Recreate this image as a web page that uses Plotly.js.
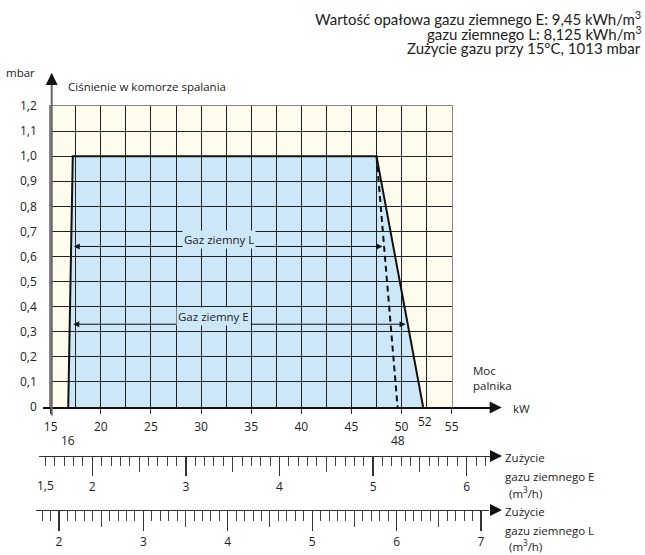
<!DOCTYPE html>
<html><head><meta charset="utf-8">
<script src="https://cdn.plot.ly/plotly-3.0.1.min.js"></script>
<style>html,body{margin:0;padding:0;background:#fff}</style>
</head><body><div id="chart" style="width:645px;height:555px"></div>
<script>
// ---- data ----
const powerTicks = [15, 20, 25, 30, 35, 40, 45, 50, 55];
const pressureTicks = [0, 0.1, 0.2, 0.3, 0.4, 0.5, 0.6, 0.7, 0.8, 0.9, 1.0, 1.1, 1.2];
const pressureLabels = ['0', '0,1', '0,2', '0,3', '0,4', '0,5', '0,6', '0,7', '0,8', '0,9', '1,0', '1,1', '1,2'];
const gridPower = [17.5, 20, 22.5, 25, 27.5, 30, 32.5, 35, 37.5, 40, 42.5, 45, 47.5, 50, 52.5];
const gridPressure = [0.1, 0.2, 0.3, 0.4, 0.5, 0.6, 0.7, 0.8, 0.9, 1.0, 1.1];
const operatingPower = [16.75, 17.2, 47.5, 52.15];
const operatingPressure = [0, 1.0, 1.0, 0];
const gasLLimitPower = [47.5, 49.6];
const gasLLimitPressure = [1.0, 0];
const endpointLabels = ['16', '48', '52'];
const endpointPower = [16.75, 49.6, 52.3];
const gasRangeNames = ['Gaz ziemny L', 'Gaz ziemny E'];
const gasRangeStart = [17.15, 17.1];
const gasRangeEnd = [48.1, 50.4];
const gasRangePressure = [0.64, 0.33];
const gasRangeLabelPower = [31.8, 31.2];
const gasRangeLabelPressure = [0.668, 0.361];
const flowERange = [1.4306, 6.249];
const flowLRange = [1.7275, 7.095];
const flowEHalfTicks = [2.5, 3.5, 4.5, 5.5];
const flowLHalfTicks = [2.5, 3.5, 4.5, 5.5, 6.5];
const flowEExtraLabel = '1,5';
const flowEExtraValue = 1.5;
const infoLines = [
  'Wartość opałowa gazu ziemnego E: 9,45 kWh/m<sup>3</sup>',
  'gazu ziemnego L: 8,125 kWh/m<sup>3</sup>',
  'Zużycie gazu przy 15°C, 1013 mbar'
];

// ---- layout helpers (pixel -> paper) ----
const W = 645, H = 555;
const px = v => v / W;
const py = v => 1 - v / H;
const tf = {family: 'Open Sans, Noto Sans, sans-serif', size: 12, color: '#222'};
const lf = {family: 'Open Sans, Noto Sans, sans-serif', size: 11.5, color: '#222'};

const mainX = [px(50.7), px(451.7)];
const mainY = [py(407), py(106)];
const thinY = p => [py(p), py(p) + 0.004];

const traces = [
  {x: operatingPower, y: operatingPressure, xaxis: 'x', yaxis: 'y', mode: 'lines', fill: 'toself',
   fillcolor: '#cce7f8', line: {width: 0}, hoverinfo: 'skip', showlegend: false},
  {x: operatingPower, y: operatingPressure, xaxis: 'x2', yaxis: 'y2', mode: 'lines',
   line: {color: '#111', width: 2}, hoverinfo: 'skip', showlegend: false},
  {x: gasLLimitPower, y: gasLLimitPressure, xaxis: 'x2', yaxis: 'y2', mode: 'lines',
   line: {color: '#111', width: 2, dash: '6px,4px'}, hoverinfo: 'skip', showlegend: false},
  // empty traces that only register the helper subplots
  {x: [], y: [], xaxis: 'x3', yaxis: 'y3', mode: 'lines', showlegend: false, hoverinfo: 'skip'},
  {x: [], y: [], xaxis: 'x4', yaxis: 'y4', mode: 'lines', showlegend: false, hoverinfo: 'skip'},
  {x: [], y: [], xaxis: 'x5', yaxis: 'y5', mode: 'lines', showlegend: false, hoverinfo: 'skip'},
  {x: [], y: [], xaxis: 'x7', yaxis: 'y3', mode: 'lines', showlegend: false, hoverinfo: 'skip'},
  {x: [], y: [], xaxis: 'x8', yaxis: 'y4', mode: 'lines', showlegend: false, hoverinfo: 'skip'}
];

const ann = [];
infoLines.forEach((t, i) => ann.push({xref: 'paper', yref: 'paper', x: px(643), y: py(18 + 15 * i),
  xanchor: 'right', yanchor: 'middle', text: t, showarrow: false,
  font: {family: 'Lato, sans-serif', size: 15, color: '#222'}}));
ann.push({xref: 'paper', yref: 'paper', x: px(20), y: py(72), text: 'mbar', showarrow: false, font: lf, xanchor: 'center', yanchor: 'middle'});
ann.push({xref: 'paper', yref: 'paper', x: px(66), y: py(87), text: 'Ciśnienie w komorze spalania', showarrow: false, font: lf, xanchor: 'left', yanchor: 'middle'});
ann.push({xref: 'paper', yref: 'paper', x: px(471), y: py(378), text: 'Moc<br>palnika', align: 'left', showarrow: false, font: lf, xanchor: 'left', yanchor: 'middle'});
ann.push({xref: 'paper', yref: 'paper', x: px(511), y: py(408), text: 'kW', showarrow: false, font: lf, xanchor: 'left', yanchor: 'middle'});
[['Zużycie', 457], ['gazu ziemnego E', 476], ['(m<sup>3</sup>/h)', 492],
 ['Zużycie', 511], ['gazu ziemnego L', 530], ['(m<sup>3</sup>/h)', 545]].forEach(([t, y]) =>
  ann.push({xref: 'paper', yref: 'paper', x: px(t[0] === '(' ? 507 : 503), y: py(y), text: t, showarrow: false, font: lf, xanchor: 'left', yanchor: 'middle'}));
endpointLabels.forEach((t, i) => ann.push({xref: 'x', yref: 'paper', x: endpointPower[i], y: py(t === '52' ? 421 : 440),
  text: t, showarrow: false, font: tf, xanchor: 'center', yanchor: 'middle'}));
ann.push({xref: 'x3', yref: 'paper', x: flowEExtraValue, y: py(485), text: flowEExtraLabel, showarrow: false, font: tf, xanchor: 'center', yanchor: 'middle'});
gasRangeNames.forEach((t, i) => {
  ann.push({xref: 'x2', yref: 'y2', x: gasRangeEnd[i], y: gasRangePressure[i], axref: 'x2', ayref: 'y2',
    ax: gasRangeStart[i], ay: gasRangePressure[i], text: '', showarrow: true, arrowside: 'end+start',
    arrowhead: 2, startarrowhead: 2, arrowsize: 1.2, startarrowsize: 1.2, arrowwidth: 1, arrowcolor: '#111'});
  ann.push({xref: 'x2', yref: 'y2', x: gasRangeLabelPower[i], y: gasRangeLabelPressure[i], text: t, showarrow: false,
    font: lf, bgcolor: '#cce7f8', borderpad: 1, xanchor: 'center', yanchor: 'middle'});
});
// pressure axis line (gray) drawn as a long arrow from below 0 up to the top
ann.push({xref: 'paper', yref: 'paper', x: px(51.7), y: py(74), ax: 0, ay: 343, text: '', showarrow: true,
  arrowhead: 0, arrowwidth: 2, arrowcolor: '#666', standoff: 0});
// axis arrowheads (tip x, tip y, tail offset in px)
[[501.7, 407.5, -13, 0], [502, 456, -13, 0], [502, 510, -13, 0], [51.7, 73, 0, 13]].forEach(([x, y, ax, ay]) =>
  ann.push({xref: 'paper', yref: 'paper', x: px(x), y: py(y), ax: ax, ay: ay, text: '', showarrow: true,
    arrowhead: 2, arrowsize: 1.5, arrowwidth: 1.6, arrowcolor: '#111', standoff: 0}));

const noAxis = {showgrid: false, zeroline: false, showticklabels: false, ticks: '', fixedrange: true};
const hiddenAxis = Object.assign({}, noAxis, {showline: false, range: [0, 1]});

const layout = {
  width: W, height: H, margin: {l: 0, r: 0, t: 0, b: 0},
  paper_bgcolor: '#fff', plot_bgcolor: 'rgba(0,0,0,0)', showlegend: false,
  // main pressure / power frame
  xaxis: {domain: mainX, range: [15, 55], anchor: 'y', tickmode: 'array', tickvals: powerTicks,
    ticktext: powerTicks.map(String), ticks: 'outside', ticklen: 5, tickcolor: '#333', tickfont: tf,
    ticklabelstandoff: 3, showgrid: false, zeroline: false, showline: true, linecolor: '#888', linewidth: 1.5, mirror: true, fixedrange: true},
  yaxis: {domain: mainY, range: [0, 1.2], anchor: 'x', tickmode: 'array', tickvals: pressureTicks,
    ticktext: pressureLabels, ticks: '', tickfont: tf, ticklabelstandoff: 10, showgrid: false, zeroline: false,
    showline: true, linecolor: '#888', linewidth: 1.5, mirror: true, fixedrange: true},
  // grid above the fill
  xaxis2: Object.assign({}, noAxis, {domain: mainX, range: [15, 55], anchor: 'y2', tickmode: 'array', tickvals: gridPower,
    showgrid: true, gridcolor: '#222', gridwidth: 1}),
  yaxis2: Object.assign({}, noAxis, {domain: mainY, range: [0, 1.2], anchor: 'x2', tickmode: 'array', tickvals: gridPressure,
    showgrid: true, gridcolor: '#222', gridwidth: 1}),
  // gas E consumption scale
  xaxis3: {domain: [px(39), px(490)], range: flowERange, anchor: 'y3', side: 'bottom',
    showline: true, linecolor: '#333', linewidth: 1.2, tickmode: 'linear', tick0: 0, dtick: 1,
    ticks: 'outside', ticklen: 19, tickwidth: 1.2, tickcolor: '#333', tickfont: tf, ticklabelstandoff: 0,
    minor: {tick0: 0, dtick: 0.1, ticks: 'outside', ticklen: 9, tickwidth: 1, tickcolor: '#444', showgrid: false},
    showgrid: false, zeroline: false, fixedrange: true},
  yaxis3: Object.assign({}, hiddenAxis, {domain: thinY(456), anchor: 'x3'}),
  xaxis7: Object.assign({}, noAxis, {overlaying: 'x3', range: flowERange, anchor: 'y3', side: 'bottom',
    tickmode: 'array', tickvals: flowEHalfTicks, ticks: 'outside', ticklen: 15, tickwidth: 1, tickcolor: '#444'}),
  // gas L consumption scale
  xaxis4: {domain: [px(36), px(489)], range: flowLRange, anchor: 'y4', side: 'bottom',
    showline: true, linecolor: '#333', linewidth: 1.2, tickmode: 'linear', tick0: 0, dtick: 1,
    ticks: 'outside', ticklen: 20, tickwidth: 1.2, tickcolor: '#333', tickfont: tf, ticklabelstandoff: 0,
    minor: {tick0: 0, dtick: 0.1, ticks: 'outside', ticklen: 10, tickwidth: 1, tickcolor: '#444', showgrid: false},
    showgrid: false, zeroline: false, fixedrange: true},
  yaxis4: Object.assign({}, hiddenAxis, {domain: thinY(510), anchor: 'x4'}),
  xaxis8: Object.assign({}, noAxis, {overlaying: 'x4', range: flowLRange, anchor: 'y4', side: 'bottom',
    tickmode: 'array', tickvals: flowLHalfTicks, ticks: 'outside', ticklen: 16, tickwidth: 1, tickcolor: '#444'}),
  // extended power axis line (y = 0)
  xaxis5: Object.assign({}, noAxis, {domain: [px(42.7), px(490)], range: [0, 1], anchor: 'y5', side: 'bottom',
    showline: true, linecolor: '#111', linewidth: 2}),
  yaxis5: Object.assign({}, hiddenAxis, {domain: thinY(407), anchor: 'x5'}),
  shapes: [
    {type: 'rect', xref: 'x domain', yref: 'y domain', x0: 0, x1: 1, y0: 0, y1: 1,
     fillcolor: '#fffcee', line: {width: 0}, layer: 'below'}
  ],
  annotations: ann
};

Plotly.newPlot('chart', traces, layout, {staticPlot: true, displayModeBar: false});
</script></body></html>
